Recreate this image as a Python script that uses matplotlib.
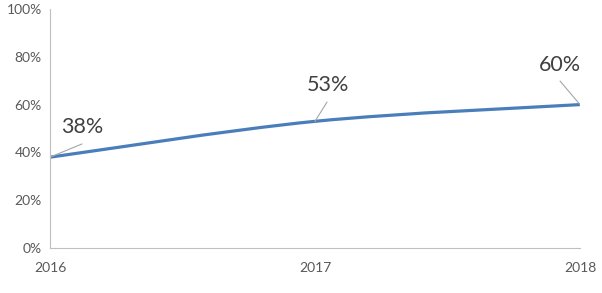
import matplotlib.pyplot as plt
from matplotlib.path import Path
from matplotlib.patches import PathPatch
from matplotlib.ticker import FuncFormatter

years = ['2016', '2017', '2018']
values = [38, 53, 60]
# label text positions (year index, percent)
label_pos = [(0.12, 50.5), (1.05, 68.3), (1.925, 76.6)]
leader_end = [(0.12, 43.5), (1.045, 61.0), (1.925, 69.8)]

plt.rcParams['font.family'] = ['Lato', 'DejaVu Sans']

fig = plt.figure(figsize=(6.02, 2.93), dpi=100)
ax = fig.add_axes([50 / 602, 45 / 293, 530 / 602, 239 / 293])

# smoothed line like Excel: cubic bezier segments through the points
x = list(range(len(values)))
pts = list(zip(x, values))
verts = [pts[0]]
codes = [Path.MOVETO]
for i in range(len(pts) - 1):
    p0 = pts[i - 1] if i > 0 else pts[i]
    p1 = pts[i]
    p2 = pts[i + 1]
    p3 = pts[i + 2] if i + 2 < len(pts) else pts[i + 1]
    c1 = (p1[0] + (p2[0] - p0[0]) / 6, p1[1] + (p2[1] - p0[1]) / 6)
    c2 = (p2[0] - (p3[0] - p1[0]) / 6, p2[1] - (p3[1] - p1[1]) / 6)
    verts += [c1, c2, p2]
    codes += [Path.CURVE4] * 3
ax.add_patch(PathPatch(Path(verts, codes), facecolor='none',
                       edgecolor='#4A7EBB', lw=2.3, capstyle='butt'))

for i, v in enumerate(values):
    ax.plot([x[i], leader_end[i][0]], [v, leader_end[i][1]], color='#A6A6A6', lw=0.8)
    ax.text(label_pos[i][0], label_pos[i][1], f'{v}%', fontsize=15.5,
            color='#404040', ha='center', va='center')

ax.set_xlim(0, 2)
ax.set_ylim(0, 100)
ax.set_yticks(range(0, 101, 20))
ax.yaxis.set_major_formatter(FuncFormatter(lambda v, p: f'{v:.0f}%'))
ax.set_xticks(x)
ax.set_xticklabels(years)
ax.tick_params(length=0, labelsize=10, colors='#595959')
ax.tick_params(axis='x', pad=10)
ax.tick_params(axis='y', pad=6)
for s in ['top', 'right']:
    ax.spines[s].set_visible(False)
for s in ['left', 'bottom']:
    ax.spines[s].set_color('#BFBFBF')
    ax.spines[s].set_linewidth(0.8)

fig.savefig('out.png', dpi=100)
